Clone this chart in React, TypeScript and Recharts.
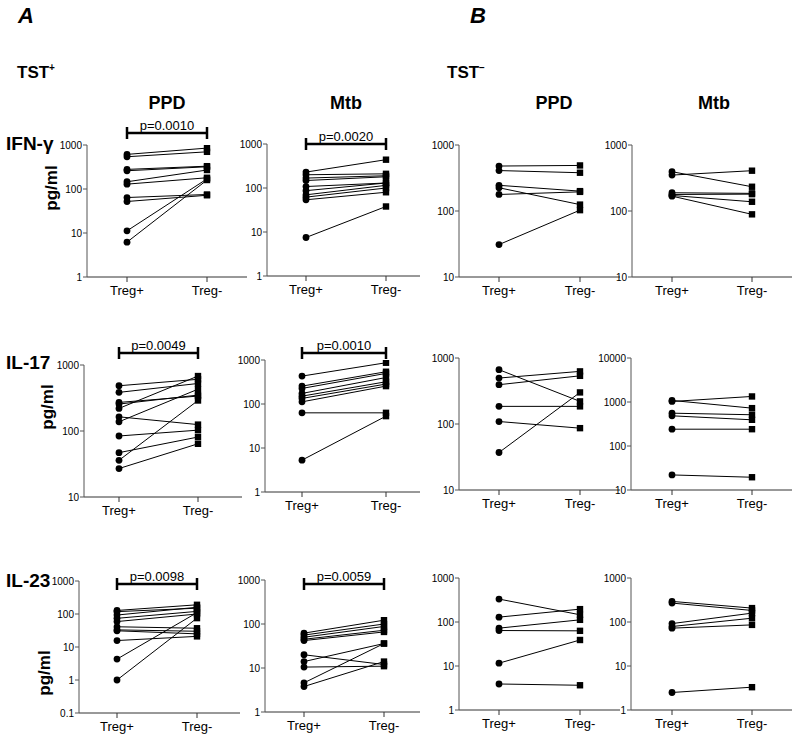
import React from 'react';
import { LineChart, Line, XAxis, YAxis, ReferenceLine } from 'recharts';

const conditions = ['Treg+', 'Treg-'];

// TST+ (A) - IFN-γ
const ifnPpdPosPlus = [612, 541, 279, 260, 146, 129, 64, 52, 11.2, 6.2];
const ifnPpdPosMinus = [850, 700, 330, 320, 270, 180, 75, 72, 170, 160];
const ifnMtbPosPlus = [230, 200, 168, 148, 108, 87, 70, 62, 54, 7.5];
const ifnMtbPosMinus = [440, 210, 190, 180, 130, 130, 115, 100, 80, 38];
// TST- (B) - IFN-γ
const ifnPpdNegPlus = [480, 410, 245, 225, 178, 31];
const ifnPpdNegMinus = [490, 380, 200, 125, 195, 103];
const ifnMtbNegPlus = [350, 394, 189, 178, 172, 168];
const ifnMtbNegMinus = [408, 233, 185, 180, 138, 89];

// IL-17
const il17PpdPosPlus = [485, 385, 271, 256, 220, 164, 138, 84, 47, 36, 27];
const il17PpdPosMinus = [607, 525, 338, 350, 680, 125, 430, 103, 81, 290, 64];
const il17MtbPosPlus = [431, 255, 226, 174, 151, 134, 112, 63, 5.3];
const il17MtbPosMinus = [866, 541, 496, 400, 320, 284, 255, 63, 53];
const il17PpdNegPlus = [665, 497, 394, 185, 109, 37];
const il17PpdNegMinus = [220, 627, 537, 185, 86.5, 301];
const il17MtbNegPlus = [1028, 1084, 557, 485, 241, 22];
const il17MtbNegMinus = [1337, 725, 513, 394, 241, 19.5];

// IL-23
const il23PpdPosPlus = [128, 118, 93, 74, 59, 41, 33, 31, 15.7, 4.3, 1.0];
const il23PpdPosMinus = [190, 150, 160, 120, 100, 37, 30, 25, 21, 110, 75];
const il23MtbPosPlus = [62, 56, 50, 45, 42, 20, 14, 10.5, 4.6, 3.8];
const il23MtbPosMinus = [122, 100, 88, 72, 66, 12, 36, 11, 36, 14];
const il23PpdNegPlus = [332, 129, 72.5, 64, 11.6, 3.9];
const il23PpdNegMinus = [146, 196, 112, 63, 39, 3.65];
const il23MtbNegPlus = [294, 269, 92, 79, 72.5, 2.5];
const il23MtbNegMinus = [207, 183, 159, 122, 86, 3.3];

const ticks1k = [1, 10, 100, 1000];
const ticks10to1k = [10, 100, 1000];
const ticks10to10k = [10, 100, 1000, 10000];
const ticks01to1k = [0.1, 1, 10, 100, 1000];

const FONT = '"Liberation Sans", Arial, sans-serif';
const Y_W = 45;
const X_H = 30;
const M_T = 40;
const M_R = 5;

interface PanelProps {
  plus: number[];
  minus: number[];
  ticks: number[];
  axisX: number;
  topY: number;
  bottomY: number;
  xPlus: number;
  xMinus: number;
  xEnd: number;
  pValue?: string;
  bracketY?: number;
}

const renderDot = (props: any) => {
  const { cx, cy, index } = props;
  if (cx == null || cy == null) return <g key={`d-${index}`} />;
  if (index === 0) {
    return <circle key={`d-${index}`} cx={cx} cy={cy} r={3.4} fill="#000" />;
  }
  return <rect key={`d-${index}`} x={cx - 3.2} y={cy - 3.2} width={6.4} height={6.4} fill="#000" />;
};

const Panel = ({ plus, minus, ticks, axisX, topY, bottomY, xPlus, xMinus, xEnd, pValue, bracketY }: PanelProps) => {
  const yMin = ticks[0];
  const yMax = ticks[ticks.length - 1];
  const data = conditions.map((c, i) => {
    const row: any = { x: i + 1, cond: c };
    (i === 0 ? plus : minus).forEach((v, j) => {
      row[`s${j}`] = v;
    });
    return row;
  });
  const s = xMinus - xPlus;
  const lo = 1 - (xPlus - axisX) / s;
  const hi = 2 + (xEnd - xMinus) / s;
  const plotH = bottomY - topY;
  const perDecade = plotH / Math.log10(yMax / yMin);
  const width = Y_W + (xEnd - axisX) + M_R;
  const height = M_T + plotH + X_H;

  let bracket: React.ReactNode = null;
  if (pValue && bracketY) {
    const yb = yMax * Math.pow(10, (topY - bracketY) / perDecade);
    const k = Math.pow(10, 6 / perDecade);
    bracket = [
      <ReferenceLine
        key="h"
        segment={[{ x: 1, y: yb }, { x: 2, y: yb }]}
        stroke="#000"
        strokeWidth={2.5}
        ifOverflow="visible"
        label={{ value: pValue, position: 'top', fill: '#000', fontSize: 13, fontFamily: FONT, offset: 3 }}
      />,
      <ReferenceLine key="l" segment={[{ x: 1, y: yb / k }, { x: 1, y: yb * k }]} stroke="#000" strokeWidth={2.5} ifOverflow="visible" />,
      <ReferenceLine key="r" segment={[{ x: 2, y: yb / k }, { x: 2, y: yb * k }]} stroke="#000" strokeWidth={2.5} ifOverflow="visible" />,
    ];
  }

  return (
    <div style={{ position: 'absolute', left: axisX - Y_W, top: topY - M_T }}>
      <LineChart width={width} height={height} data={data} margin={{ top: M_T, right: M_R, left: 0, bottom: 0 }} style={{ overflow: 'visible' }}>
        <XAxis
          type="number"
          dataKey="x"
          domain={[lo, hi]}
          ticks={[1, 2]}
          allowDataOverflow
          tickFormatter={(v: number) => conditions[Math.round(v) - 1]}
          height={X_H}
          tickSize={5}
          tickMargin={4}
          stroke="#333"
          tick={{ fill: '#000', fontSize: 13, fontFamily: FONT }}
        />
        <YAxis
          type="number"
          scale="log"
          domain={[yMin, yMax]}
          ticks={ticks}
          allowDataOverflow
          width={Y_W}
          tickSize={4}
          tickMargin={1}
          stroke="#555"
          tickFormatter={(v: number) => String(v)}
          tick={{ fill: '#000', fontSize: 10, fontFamily: FONT }}
        />
        {plus.map((_, j) => (
          <Line
            key={j}
            type="linear"
            dataKey={`s${j}`}
            stroke="#000"
            strokeWidth={1}
            dot={renderDot}
            activeDot={false}
            isAnimationActive={false}
          />
        ))}
        {bracket}
      </LineChart>
    </div>
  );
};

const boldText = { fontFamily: FONT, fontWeight: 'bold' as const, fill: '#000' };

export default function App() {
  return (
    <div style={{ position: 'absolute', left: 0, top: 0, width: 800, height: 741, background: '#fff', overflow: 'hidden' }}>
      <svg width={800} height={741} style={{ position: 'absolute', left: 0, top: 0 }}>
        <text x={18} y={23} fontSize={22} fontStyle="italic" {...boldText}>A</text>
        <text x={470} y={23} fontSize={22} fontStyle="italic" {...boldText}>B</text>
        <text x={17} y={78} fontSize={17} {...boldText}>
          TST<tspan dy={-7} fontSize={10}>+</tspan>
        </text>
        <text x={447} y={78} fontSize={17} {...boldText}>
          TST<tspan dy={-7} fontSize={10}>−</tspan>
        </text>
        <text x={167} y={109} fontSize={18} textAnchor="middle" {...boldText}>PPD</text>
        <text x={346} y={109} fontSize={18} textAnchor="middle" {...boldText}>Mtb</text>
        <text x={554} y={109} fontSize={18} textAnchor="middle" {...boldText}>PPD</text>
        <text x={714} y={109} fontSize={18} textAnchor="middle" {...boldText}>Mtb</text>
        <text x={6} y={150} fontSize={19} {...boldText}>IFN-γ</text>
        <text x={6} y={369} fontSize={19} {...boldText}>IL-17</text>
        <text x={6} y={587} fontSize={19} {...boldText}>IL-23</text>
        <text x={0} y={0} fontSize={17} textAnchor="middle" transform="translate(57,188) rotate(-90)" {...boldText}>pg/ml</text>
        <text x={0} y={0} fontSize={17} textAnchor="middle" transform="translate(53,407) rotate(-90)" {...boldText}>pg/ml</text>
        <text x={0} y={0} fontSize={17} textAnchor="middle" transform="translate(50,673) rotate(-90)" {...boldText}>pg/ml</text>
      </svg>

      <Panel plus={ifnPpdPosPlus} minus={ifnPpdPosMinus} ticks={ticks1k} axisX={87} topY={145} bottomY={277} xPlus={127} xMinus={207} xEnd={247} pValue="p=0.0010" bracketY={133} />
      <Panel plus={ifnMtbPosPlus} minus={ifnMtbPosMinus} ticks={ticks1k} axisX={267} topY={144} bottomY={276} xPlus={306} xMinus={386} xEnd={420} pValue="p=0.0020" bracketY={144} />
      <Panel plus={ifnPpdNegPlus} minus={ifnPpdNegMinus} ticks={ticks10to1k} axisX={459} topY={145} bottomY={277} xPlus={499} xMinus={580} xEnd={620} />
      <Panel plus={ifnMtbNegPlus} minus={ifnMtbNegMinus} ticks={ticks10to1k} axisX={632} topY={145} bottomY={277} xPlus={672} xMinus={752} xEnd={792} />

      <Panel plus={il17PpdPosPlus} minus={il17PpdPosMinus} ticks={ticks10to1k} axisX={84} topY={365} bottomY={497} xPlus={119} xMinus={198} xEnd={242} pValue="p=0.0049" bracketY={353} />
      <Panel plus={il17MtbPosPlus} minus={il17MtbPosMinus} ticks={ticks1k} axisX={265} topY={360} bottomY={492} xPlus={302} xMinus={386} xEnd={420} pValue="p=0.0010" bracketY={353} />
      <Panel plus={il17PpdNegPlus} minus={il17PpdNegMinus} ticks={ticks10to1k} axisX={459} topY={358} bottomY={490} xPlus={499} xMinus={580} xEnd={620} />
      <Panel plus={il17MtbNegPlus} minus={il17MtbNegMinus} ticks={ticks10to10k} axisX={631} topY={358} bottomY={490} xPlus={672} xMinus={752} xEnd={792} />

      <Panel plus={il23PpdPosPlus} minus={il23PpdPosMinus} ticks={ticks01to1k} axisX={79} topY={581} bottomY={713} xPlus={117} xMinus={197} xEnd={240} pValue="p=0.0098" bracketY={584} />
      <Panel plus={il23MtbPosPlus} minus={il23MtbPosMinus} ticks={ticks1k} axisX={265} topY={580} bottomY={712} xPlus={304} xMinus={384} xEnd={420} pValue="p=0.0059" bracketY={584} />
      <Panel plus={il23PpdNegPlus} minus={il23PpdNegMinus} ticks={ticks1k} axisX={459} topY={578} bottomY={710} xPlus={499} xMinus={580} xEnd={620} />
      <Panel plus={il23MtbNegPlus} minus={il23MtbNegMinus} ticks={ticks1k} axisX={631} topY={578} bottomY={710} xPlus={672} xMinus={752} xEnd={792} />
    </div>
  );
}
